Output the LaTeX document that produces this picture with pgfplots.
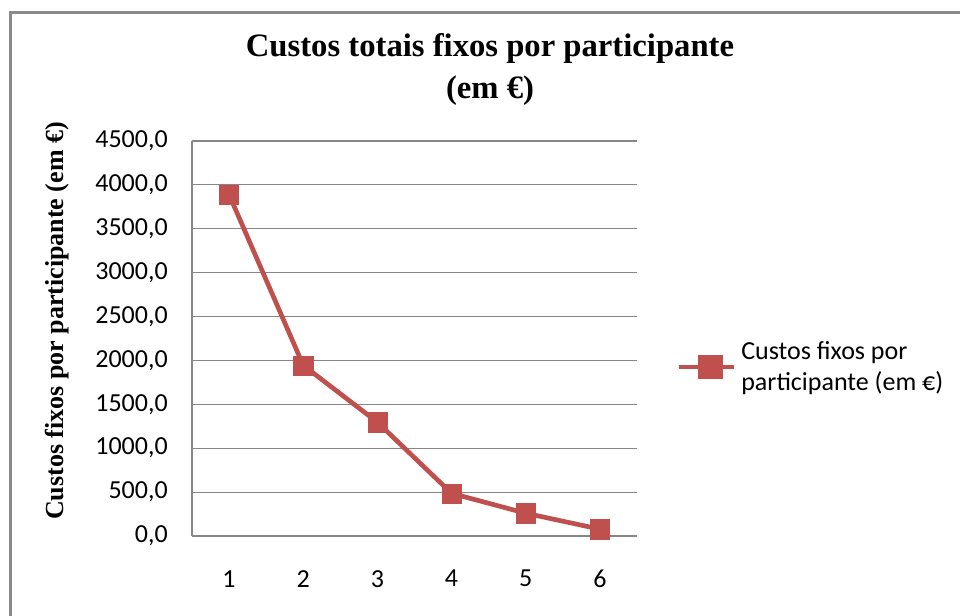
\documentclass[border=0pt]{standalone}
\usepackage{pgfplots}
\pgfplotsset{compat=1.18}
\usepackage{fontspec}
\setmainfont{Carlito}
\newfontfamily\tnr{Liberation Serif}
\definecolor{lred}{HTML}{C0504D}
\definecolor{gridg}{HTML}{868686}
\definecolor{frameg}{HTML}{8A8A8A}
\begin{document}
\begin{tikzpicture}
\path[use as bounding box] (-144pt,-59.25pt) rectangle (576pt,402pt);
\draw[frameg, line width=2pt] (-136.1pt,-62pt) -- (-136.1pt,392.6pt) -- (580pt,392.6pt);
\begin{axis}[
  at={(0pt,0pt)}, anchor=south west,
  scale only axis, width=333.75pt, height=296.25pt,
  xmin=0.5, xmax=6.5, ymin=0, ymax=4500,
  xtick={1,2,3,4,5,6},
  ytick={0,500,...,4500},
  axis x line=bottom, axis y line=left,
  axis line style={gridg, line width=0.9pt, -},
  major tick length=0pt,
  ymajorgrids, grid style={gridg, line width=0.9pt},
  font=\fontsize{19.5pt}{23.4pt}\selectfont,
  /pgf/number format/assume math mode=true,
  yticklabel style={anchor=east, inner sep=0pt, xshift=-18pt,
     /pgf/number format/.cd, fixed, fixed zerofill, precision=1, use comma, 1000 sep={}},
  xticklabel style={anchor=north, inner sep=0pt, yshift=-25.5pt},
  clip=false,
  legend style={at={(axis description cs:1,0.428)}, anchor=west, xshift=30pt,
     draw=none, fill=none, inner sep=0pt, outer sep=0pt,
     nodes={inner sep=0pt}, cells={align=left},
     font=\fontsize{19.5pt}{23.4pt}\selectfont},
  legend image code/.code={
     \draw[lred, line width=3.5pt] (0pt,0pt) -- (41pt,0pt);
     \fill[lred] (15.5pt,-7.5pt) rectangle (31pt,7.5pt);},
  /tikz/every odd column/.append style={column sep=3.75pt},
]
\addplot[lred, line width=3.5pt, mark=square*, mark size=7.2pt, mark options={line width=0.3pt}]
  coordinates {(1,3888.9) (2,1944.4) (3,1296.3) (4,486.1) (5,259.3) (6,77.8)};
\addlegendentry{Custos fixos por\\participante (em €)}
\end{axis}
\node[anchor=base, font=\tnr\bfseries\fontsize{24.5pt}{29pt}\selectfont] at (223.5pt,359.25pt) {Custos totais fixos por participante};
\node[anchor=base, font=\tnr\bfseries\fontsize{24.5pt}{29pt}\selectfont] at (223.5pt,327.75pt) {(em €)};
\node[anchor=base, rotate=90, font=\tnr\bfseries\fontsize{19.5pt}{23pt}\selectfont] at (-96pt,161.25pt) {Custos fixos por participante (em €)};
\end{tikzpicture}
\end{document}
